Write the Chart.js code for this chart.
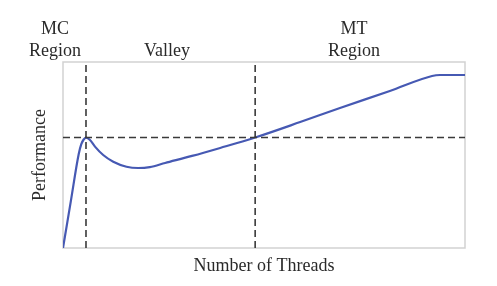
<!DOCTYPE html>
<html>
<head>
<meta charset="utf-8">
<script src="https://cdn.jsdelivr.net/npm/chart.js@4.4.1/dist/chart.umd.min.js"></script>
<style>
  html, body { margin: 0; padding: 0; background: #fff; }
  #wrap { width: 497px; height: 286px; }
</style>
</head>
<body>
<div id="wrap"><canvas id="cv" width="497" height="286"></canvas></div>
<script>
// curve (threads and performance on a 0-100 scale)
const threads = [0, 1.95, 3.9, 4.55, 5.1, 5.72, 6.72, 7.96, 10.0, 12.5, 15.8, 18.7, 21.6, 25.4, 32.1, 39.1, 47.8, 59.0, 68.9, 81.3, 91.8, 93.8, 100];
const performance = [0, 25.2, 50.4, 55.8, 58.2, 59.3, 58.1, 54.5, 50.0, 46.4, 43.7, 43.0, 43.5, 45.7, 49.5, 53.8, 59.4, 67.7, 75.3, 84.4, 92.5, 93.0, 93.0];

const peakThreads = 5.72;    // MC peak
const crossThreads = 47.8;   // MT curve crosses peak level
const peakPerf = 59.4;

const regionLabels = [['MC', 'Region'], ['Valley'], ['MT', 'Region']];

const FONT = '"Liberation Serif", "DejaVu Serif", serif';
const DASH = [7, 4];
const DASH_COLOR = '#3a3a3a';

const dashedLine = pts => ({
  data: pts,
  showLine: true,
  borderColor: DASH_COLOR,
  borderWidth: 1.6,
  borderDash: DASH,
  pointRadius: 0,
  fill: false,
});

const frameAndLabels = {
  id: 'frameAndLabels',
  beforeDatasetsDraw(chart) {
    const { ctx, chartArea: a } = chart;
    ctx.save();
    ctx.strokeStyle = '#d2d2d2';
    ctx.lineWidth = 1.5;
    ctx.strokeRect(a.left, a.top, a.right - a.left, a.bottom - a.top);
    ctx.restore();
  },
  afterDraw(chart) {
    const { ctx, chartArea: a } = chart;
    const xs = [a.left - 8, a.left + 104, a.left + 291];
    ctx.save();
    ctx.fillStyle = '#2a2a2a';
    ctx.font = '18px ' + FONT;
    ctx.textAlign = 'center';
    ctx.textBaseline = 'alphabetic';
    regionLabels.forEach((lines, i) => {
      lines.slice().reverse().forEach((t, j) => {
        ctx.fillText(t, xs[i], a.top - 6 - j * 22);
      });
    });
    ctx.restore();
  }
};

new Chart(document.getElementById('cv').getContext('2d'), {
  type: 'scatter',
  data: {
    datasets: [
      dashedLine([{ x: peakThreads, y: 0 }, { x: peakThreads, y: 100 }]),
      dashedLine([{ x: crossThreads, y: 0 }, { x: crossThreads, y: 100 }]),
      dashedLine([{ x: 0, y: peakPerf }, { x: 100, y: peakPerf }]),
      {
        data: threads.map((t, i) => ({ x: t, y: performance[i] })),
        showLine: true,
        borderColor: '#4659b3',
        borderWidth: 2.2,
        cubicInterpolationMode: 'monotone',
        pointRadius: 0,
        fill: false,
      }
    ]
  },
  options: {
    responsive: false,
    animation: false,
    events: [],
    layout: { padding: { top: 62, right: 32, left: 0, bottom: 0 } },
    plugins: { legend: { display: false }, tooltip: { enabled: false } },
    scales: {
      x: {
        type: 'linear', min: 0, max: 100,
        grid: { display: false },
        border: { display: false },
        ticks: { display: false },
        afterFit: s => { s.height = 38; },
        title: {
          display: true, text: 'Number of Threads', color: '#2a2a2a',
          font: { family: FONT, size: 18 }, padding: { top: 0, bottom: 9 }
        }
      },
      y: {
        type: 'linear', min: 0, max: 100,
        grid: { display: false },
        border: { display: false },
        ticks: { display: false },
        afterFit: s => { s.width = 63; },
        title: {
          display: true, text: 'Performance', color: '#2a2a2a',
          font: { family: FONT, size: 18 }, padding: { top: 29, bottom: 0 }
        }
      }
    }
  },
  plugins: [frameAndLabels]
});
</script>
</body>
</html>
